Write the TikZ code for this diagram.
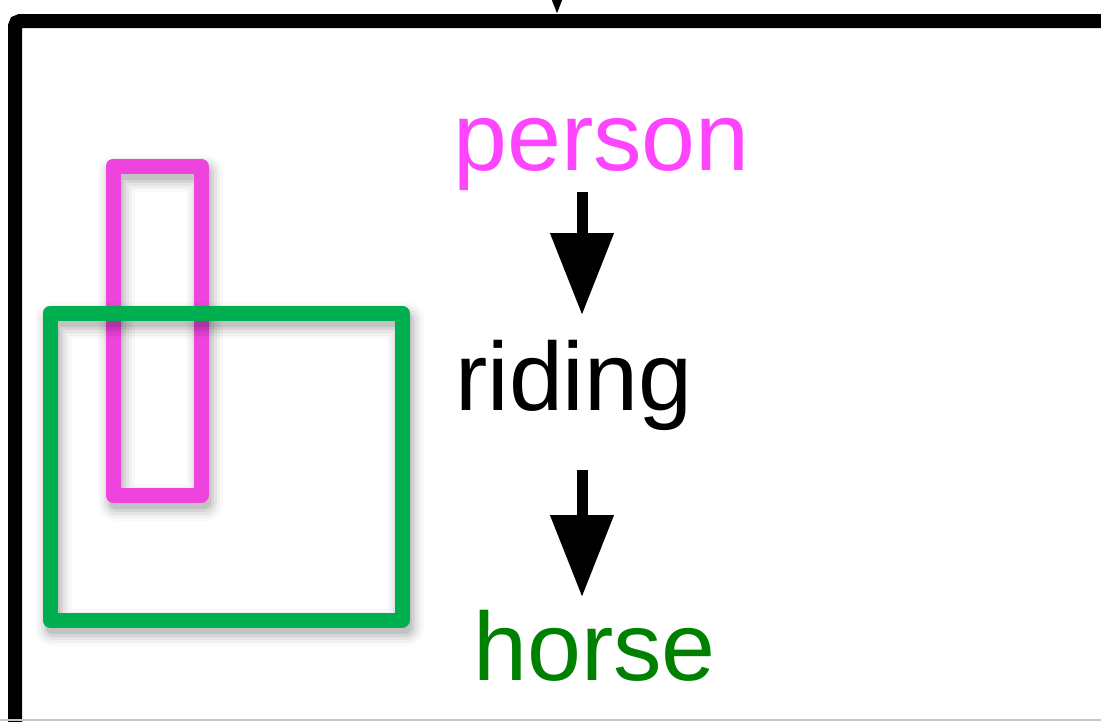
\documentclass[tikz,border=0pt]{standalone}
\usepackage{fontspec}
\setmainfont{Liberation Sans}
\usetikzlibrary{arrows.meta}
\definecolor{pmag}{RGB}{238,68,221}
\definecolor{ptext}{RGB}{255,68,255}
\definecolor{gbox}{RGB}{0,176,80}
\definecolor{gtext}{RGB}{0,128,0}
\newcommand\softshadow[1]{%
  \foreach \w/\o in {37/0.025, 31/0.035, 25/0.05, 19/0.07, 14/0.08}{%
    \draw[line width=\w pt, opacity=\o, black, line join=round, shift={(3,7)}] #1;}}
\begin{document}
\begin{tikzpicture}[x=1pt,y=-1pt,
  lbl/.style={anchor=base west, inner sep=0pt, font=\fontsize{97}{100}\selectfont},
  bigarrow/.style={line width=11pt, -{Triangle[length=82pt,width=61pt]}},
  box/.style={line width=15pt, line join=round},
  frame/.style={line width=14pt, rounded corners=5pt}]
\useasboundingbox (0,0) rectangle (1101,721);
\clip (0,0) rectangle (1101,721);
% outer frame (partly visible)
\coordinate (fr) at (1200,21);
\coordinate (fc) at (15,21);
\coordinate (fb) at (15,800);
\draw[frame] (fr) -- (fc) -- (fb);
\coordinate (bl) at (0,720);
\coordinate (br) at (1101,720);
\draw[gray!45, line width=2pt] (bl) -- (br);
% incoming arrow at top
\coordinate (t0) at (557,-150);
\coordinate (t1) at (557,14);
\draw[bigarrow] (t0) -- (t1);
% boxes
\softshadow{(113,166) rectangle (201,495)}
\draw[box, pmag] (113,166) rectangle (201,495);
\softshadow{(50,313) rectangle (402,620)}
\draw[box, gbox] (50,313) rectangle (402,620);
% labels
\node[lbl, text=ptext] (person) at (453,170) {person};
\node[lbl, text=black] (riding) at (455,410) {riding};
\node[lbl, text=gtext] (horse) at (473,680) {horse};
% arrows
\coordinate (a1s) at (582,192);
\coordinate (a1e) at (582,315);
\coordinate (a2s) at (582,470);
\coordinate (a2e) at (582,597);
\draw[bigarrow] (a1s) -- (a1e);
\draw[bigarrow] (a2s) -- (a2e);
\end{tikzpicture}
\end{document}
